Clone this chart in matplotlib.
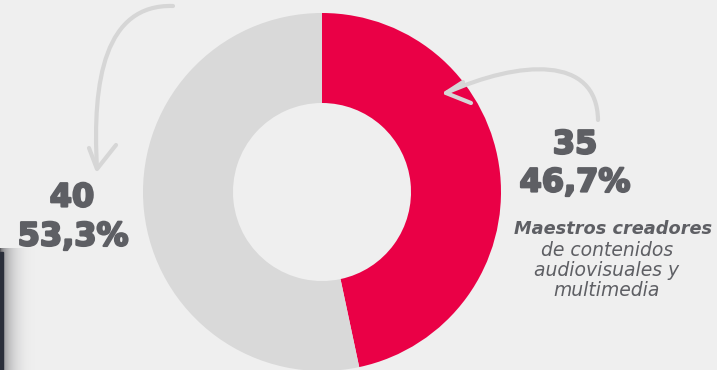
import matplotlib
matplotlib.use("Agg")
import matplotlib.pyplot as plt
import matplotlib.patheffects as pe
import numpy as np
from matplotlib.path import Path
from matplotlib.patches import PathPatch

# Data
labels = ["Maestros creadores de contenidos audiovisuales y multimedia", "Otros"]
values = [35, 40]
percents = ["46,7%", "53,3%"]
colors = ["#EA0046", "#D9D9D9"]

W, H = 717, 370
fig = plt.figure(figsize=(W / 100, H / 100), dpi=100)
fig.patch.set_facecolor("#EFEFEF")
ax = fig.add_axes([0, 0, 1, 1])
ax.set_xlim(0, W)
ax.set_ylim(0, H)
ax.set_aspect("equal")
ax.axis("off")
ax.set_facecolor("#EFEFEF")


def Y(y):
    return H - y


# dark shadow at the lower-left edge
grad = np.linspace(0, 1, 40)[None, :] ** 0.6
ax.imshow(np.tile(grad, (10, 1)), cmap=matplotlib.colors.LinearSegmentedColormap.from_list(
    "sh", [(0.35, 0.35, 0.37, 1.0), (0.94, 0.94, 0.94, 0.0)]),
    extent=(0, 36, Y(370), Y(248)), aspect="auto", zorder=0)
ax.add_patch(plt.Rectangle((0, Y(370)), 3, 118, color="#2a2e3a", zorder=0.5))

# donut
ax.pie(values, colors=colors, startangle=90, counterclock=False,
       center=(322, Y(192)), radius=179, frame=True,
       wedgeprops=dict(width=90, edgecolor="none", linewidth=0))
ax.set_xlim(0, W)
ax.set_ylim(0, H)
ax.axis("off")

arrow_col = "#D6D6D6"
lw = 3.0


def curve(p0, p1, p2, p3):
    pts = [(x, Y(y)) for x, y in (p0, p1, p2, p3)]
    path = Path(pts, [Path.MOVETO, Path.CURVE4, Path.CURVE4, Path.CURVE4])
    ax.add_patch(PathPatch(path, fill=False, edgecolor=arrow_col, lw=lw,
                           capstyle="round", zorder=3))


def head(tip, a, b):
    ax.plot([a[0], tip[0], b[0]], [Y(a[1]), Y(tip[1]), Y(b[1])],
            color=arrow_col, lw=lw, solid_capstyle="round",
            solid_joinstyle="round", zorder=3)


# left arrow
curve((173, 6), (105, 4), (92, 80), (97, 168))
head((97, 169), (89, 148), (116, 145))
# right arrow
curve((598, 120), (597, 55), (520, 60), (446, 93))
head((446, 93), (463, 82), (471, 103))

txt = "#5E5F64"
big = dict(fontfamily="DejaVu Sans", fontweight="bold", color=txt, fontsize=23,
           ha="center", va="center",
           path_effects=[pe.withStroke(linewidth=1.6, foreground=txt)])
ax.text(72, Y(198), str(values[1]), **big)
ax.text(73, Y(237), percents[1], **big)
ax.text(575, Y(145), str(values[0]), **big)
ax.text(575, Y(183), percents[0], **big)

ax.text(613, Y(229), "Maestros creadores", fontfamily="DejaVu Sans", fontweight="bold",
        style="italic", color=txt, fontsize=12.8, ha="center", va="center")
for i, s in enumerate(["de contenidos", "audiovisuales y", "multimedia"]):
    ax.text(607, Y(251 + i * 19.5), s, fontfamily="DejaVu Sans", style="italic",
            color=txt, fontsize=13.5, ha="center", va="center")

fig.savefig("out.png", dpi=100, facecolor=fig.get_facecolor())
